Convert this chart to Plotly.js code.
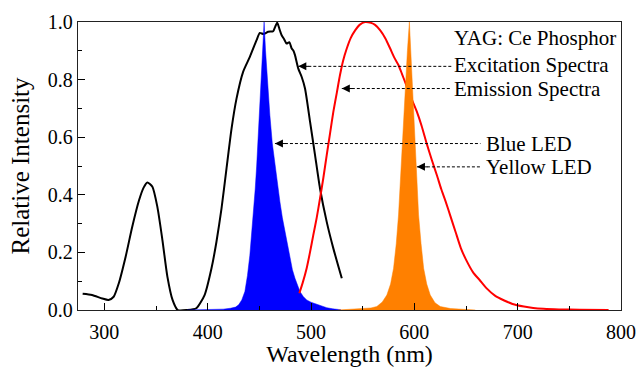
<!DOCTYPE html>
<html>
<head>
<meta charset="utf-8">
<script src="https://cdn.plot.ly/plotly-3.0.1.min.js"></script>
</head>
<body style="margin:0;background:#fff">
<div id="chart"></div>
<script>
// Excitation spectrum (YAG:Ce phosphor)
const excX = [279, 288, 298, 304, 309, 314, 320.6, 327, 333.5, 338, 341.6, 346.5, 351.3, 356.2, 361, 366, 371, 380, 389, 397, 403.7, 408.5, 413.4, 418.2, 423.1, 427.9, 434.3, 440.8, 447.3, 450.5, 454, 458.6, 463.4, 465.5, 467.3, 469.5, 471.6, 474, 476.4, 479, 481.3, 483, 484.5, 487.7, 491, 494.2, 499.1, 503.9, 508.7, 515.2, 521.6, 529.8];
const excY = [0.056, 0.052, 0.040, 0.035, 0.046, 0.093, 0.185, 0.289, 0.38, 0.425, 0.443, 0.428, 0.358, 0.243, 0.116, 0.035, 0.0, 0.0, 0.006, 0.052, 0.145, 0.237, 0.353, 0.491, 0.63, 0.734, 0.827, 0.879, 0.937, 0.962, 0.958, 0.966, 0.968, 0.985, 0.998, 0.975, 0.954, 0.94, 0.925, 0.93, 0.908, 0.9, 0.885, 0.838, 0.809, 0.769, 0.653, 0.538, 0.422, 0.306, 0.214, 0.110];

// Emission spectrum
const emiX = [488.7, 492, 495.8, 499, 502.2, 505.5, 508.7, 512, 515.2, 518.5, 521.6, 525, 528, 531, 534.6, 538.5, 542.7, 547, 552.4, 558, 562, 567, 572, 576.6, 580.5, 584.7, 588, 591.2, 596.5, 602.5, 607, 612.2, 617, 621.9, 626, 630, 635, 640, 645, 650, 657, 663, 670, 678, 687, 695, 706, 715, 725, 740, 760, 788];
const emiY = [0.058, 0.095, 0.145, 0.2, 0.26, 0.32, 0.387, 0.46, 0.538, 0.615, 0.688, 0.755, 0.815, 0.865, 0.908, 0.945, 0.971, 0.99, 1.0, 0.997, 0.99, 0.971, 0.943, 0.908, 0.877, 0.85, 0.82, 0.79, 0.74, 0.688, 0.64, 0.575, 0.52, 0.467, 0.42, 0.38, 0.325, 0.27, 0.215, 0.175, 0.13, 0.105, 0.075, 0.05, 0.033, 0.021, 0.012, 0.007, 0.004, 0.002, 0.001, 0.0];

// Blue LED
const blueX = [380, 400, 415, 422, 427, 430, 433, 436, 438.5, 440.8, 442.5, 444.1, 446, 447.4, 449, 450.5, 452, 453.2, 454.6, 456, 457, 458.5, 460.2, 462.5, 465.1, 467.5, 469.9, 472.3, 474.8, 477.2, 479.6, 482, 484.5, 487, 489.3, 492.5, 495.8, 500, 505.5, 510, 515.2, 521, 529];
const blueY = [0, 0.001, 0.003, 0.006, 0.01, 0.018, 0.035, 0.064, 0.12, 0.19, 0.26, 0.33, 0.42, 0.50, 0.62, 0.734, 0.83, 0.908, 1.0, 0.9, 0.84, 0.76, 0.676, 0.58, 0.503, 0.43, 0.376, 0.32, 0.272, 0.222, 0.179, 0.14, 0.11, 0.085, 0.064, 0.047, 0.035, 0.027, 0.02, 0.013, 0.008, 0.004, 0.001];

// Yellow LED
const yelX = [526, 540, 550.7, 558, 563.7, 569, 573.4, 577, 579.9, 582.5, 584.7, 586.5, 588, 589.7, 591.2, 593.3, 595.2, 596.5, 597.7, 599.3, 600.9, 602.5, 604.1, 606.5, 609, 612, 615.4, 620, 625.1, 635, 645, 659];
const yelY = [0, 0.002, 0.004, 0.007, 0.012, 0.028, 0.052, 0.09, 0.145, 0.23, 0.33, 0.45, 0.56, 0.68, 0.79, 0.9, 1.0, 0.9, 0.79, 0.68, 0.56, 0.45, 0.33, 0.23, 0.145, 0.09, 0.052, 0.025, 0.012, 0.005, 0.002, 0];

// Labels and arrows
const labelTexts = ["YAG: Ce Phosphor", "Excitation Spectra", "Emission Spectra", "Blue LED", "Yellow LED"];
const labelX = [636.5, 636.5, 636.5, 667.1, 667.1];
const labelY = [0.943, 0.85, 0.769, 0.578, 0.497];
const arrowX = [487.7, 529.8, 465.1, 602.5];
const arrowY = [0.846, 0.769, 0.578, 0.497];
const arrowEndX = [636, 636, 664, 664];

const FAM = 'Liberation Serif';

const traces = [
  {x: excX, y: excY, mode: 'lines', line: {color: '#000', width: 2, shape: 'spline', smoothing: 0.6}, hoverinfo: 'skip'},
  {x: blueX, y: blueY, mode: 'lines', fill: 'tozeroy', fillcolor: '#0000FF', line: {color: '#0000FF', width: 0.5}, hoverinfo: 'skip'},
  {x: emiX, y: emiY, mode: 'lines', line: {color: '#FF0000', width: 2, shape: 'spline', smoothing: 0.6}, hoverinfo: 'skip'},
  {x: yelX, y: yelY, mode: 'lines', fill: 'tozeroy', fillcolor: '#FF8000', line: {color: '#FF8000', width: 0.5}, hoverinfo: 'skip'}
];

const annotations = [];
const shapes = [];
labelTexts.forEach((t, i) => {
  annotations.push({x: labelX[i], y: labelY[i], xref: 'x', yref: 'y', text: t, showarrow: false,
    xanchor: 'left', yanchor: 'middle', font: {family: FAM, size: 21, color: '#000'}});
});
arrowX.forEach((ax, i) => {
  shapes.push({type: 'line', xref: 'x', yref: 'y', x0: ax, x1: arrowEndX[i], y0: arrowY[i], y1: arrowY[i],
    line: {color: '#000', width: 1, dash: '3px,2px'}});
  annotations.push({x: ax, y: arrowY[i], xref: 'x', yref: 'y', text: '', showarrow: true,
    ax: 12, ay: 0, arrowhead: 2, arrowsize: 1.6, arrowwidth: 1, arrowcolor: '#000', standoff: 0});
});

const layout = {
  width: 638, height: 367,
  margin: {l: 78, r: 17, t: 22, b: 57, pad: 0},
  paper_bgcolor: '#fff', plot_bgcolor: '#fff',
  showlegend: false,
  font: {family: FAM, size: 20, color: '#000'},
  xaxis: {
    range: [274.5, 800], dtick: 100, tick0: 300, ticks: 'inside', ticklen: 7, tickwidth: 1, tickcolor: '#000',
    minor: {dtick: 50, ticks: 'inside', ticklen: 4, tickcolor: '#000'},
    showgrid: false, zeroline: false, showline: true, linecolor: '#222', linewidth: 1.3, mirror: true,
    tickfont: {family: FAM, size: 20, color: '#000'}, ticklabelstandoff: 4,
    title: {text: 'Wavelength (nm)', font: {family: FAM, size: 24, color: '#000'}, standoff: 0}
  },
  yaxis: {
    range: [0, 1.0], dtick: 0.2, tick0: 0, tickformat: '.1f', ticks: 'inside', ticklen: 7, tickwidth: 1, tickcolor: '#000',
    minor: {dtick: 0.1, ticks: 'inside', ticklen: 4, tickcolor: '#000'},
    showgrid: false, zeroline: false, showline: true, linecolor: '#222', linewidth: 1.3, mirror: true,
    tickfont: {family: FAM, size: 20, color: '#000'},
    title: {text: 'Relative Intensity', font: {family: FAM, size: 25, color: '#000'}, standoff: 11}
  },
  annotations: annotations,
  shapes: shapes
};

Plotly.newPlot('chart', traces, layout, {displayModeBar: false});
</script>
</body>
</html>
